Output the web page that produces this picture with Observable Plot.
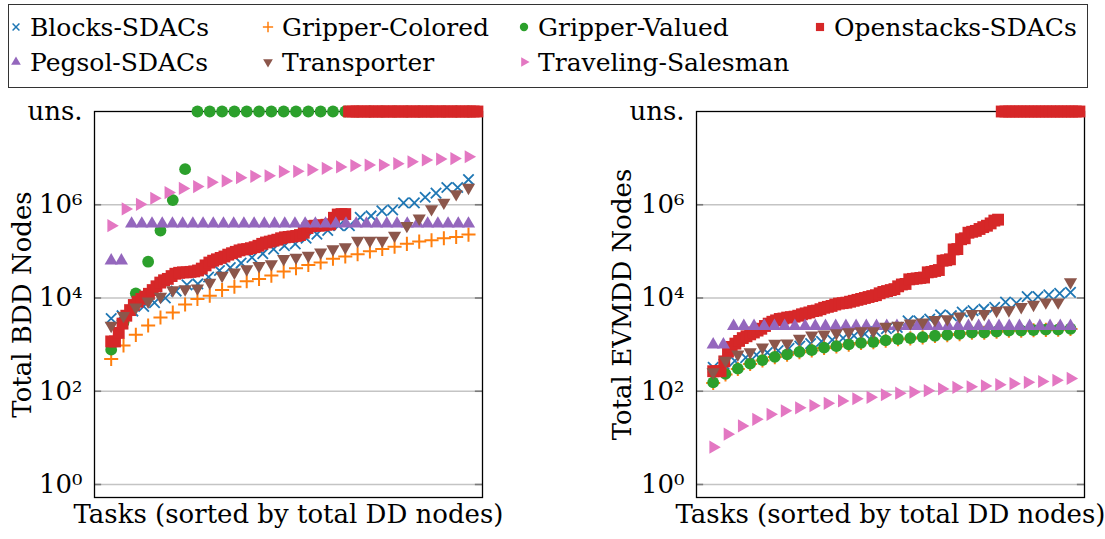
<!DOCTYPE html>
<html><head><meta charset="utf-8">
<script src="https://cdn.jsdelivr.net/npm/d3@7"></script>
<script src="https://cdn.jsdelivr.net/npm/@observablehq/plot@0.6"></script>
<style>
html,body{margin:0;padding:0;background:#fff;}
#root{position:relative;width:1105px;height:539px;overflow:hidden;font-family:"DejaVu Serif",serif;color:#000;}
#legend{position:absolute;left:8px;top:4px;width:1080px;height:84px;border:1.5px solid #333;box-sizing:border-box;}
.item{position:absolute;display:flex;align-items:center;white-space:nowrap;line-height:1;}
.item svg{margin-right:6px;overflow:visible;}
.panel{position:absolute;top:90px;}
</style></head><body><div id="root"><div id="legend"></div></div>
<script>
const U = "uns.";
const seriesNames = ["Blocks-SDACs","Gripper-Colored","Gripper-Valued","Openstacks-SDACs","Pegsol-SDACs","Transporter","Traveling-Salesman"];
const tickValues = [1, 1e2, 1e4, 1e6, 1e8];
const tickLabels = ["10⁰", "10²", "10⁴", "10⁶", "uns."];
const xLabel = "Tasks (sorted by total DD nodes)";
const yLabels = ["Total BDD Nodes", "Total EVMDD Nodes"];

// ---- BDD panel (left) ----
const bddBlocks = [3630,4170,5250,6610,7940,10000,14100,19100,20000,28200,38900,44700,56200,74100,89100,112000,132000,145000,191000,234000,282000,355000,355000,537000,575000,741000,776000,1100000,1100000,1450000,1780000,2340000,2340000,3470000];
const bddGripperColored = [490,955,1620,2570,3800,4900,7240,9550,11200,14800,17400,22900,25700,30200,37200,43700,51300,57500,69200,77600,87100,100000,112000,126000,145000,162000,174000,191000,204000,229000];
const bddGripperValued = [780,3000,12600,60000,280000,1260000,5800000,U,U,U,U,U,U,U,U,U,U,U,U,U,U,U,U,U,U,U,U,U,U,U];
const bddOpenstacks = [1170,1170,1780,2820,4170,5500,7080,8320,9550,10700,12300,14800,17800,21400,24000,25700,29500,33100,34700,35500,35500,36300,37200,38900,42700,50100,57500,63100,67600,72400,77600,85100,91200,97700,105000,110000,112000,117000,123000,132000,145000,155000,162000,170000,178000,191000,200000,204000,209000,214000,224000,251000,316000,347000,355000,355000,363000,372000,380000,525000,617000,631000,631000,U,U,U,U,U,U,U,U,U,U,U,U,U,U,U,U,U,U,U,U,U,U,U,U,U,U,U,U,U,U,U,U,U,U,U];
const bddPegsol = [63000,63000,390000,390000,390000,390000,390000,390000,390000,390000,390000,390000,390000,390000,390000,390000,390000,390000,390000,390000,390000,390000,390000,390000,390000,390000,390000,390000,390000,390000,390000,390000,390000,390000,390000,390000];
const bddTransporter = [2570,4170,6310,8510,10700,14800,15500,16200,21400,30200,35500,41700,49000,53700,69200,74100,81300,95500,112000,123000,170000,170000,170000,219000,355000,513000,813000,1120000,1700000,2340000];
const bddTSP = [355000,813000,1020000,1380000,1820000,2240000,2450000,3020000,3240000,3800000,4070000,4170000,5130000,5200000,5620000,6030000,6460000,6920000,7080000,7100000,7590000,8320000,9120000,9550000,9770000,10700000];

// ---- EVMDD panel (right) ----
const evBlocks = [324,380,447,525,603,676,741,832,933,1050,1170,1260,1380,1550,1700,1910,2190,2340,3240,3240,3550,4370,4170,5010,5370,5750,6310,8130,7760,10700,10700,11700,12600,13200];
const evGripperColored = [150,230,300,385,455,540,610,690,750,850,915,1000,1080,1130,1210,1300,1360,1430,1530,1600,1680,1800,1800,1880,1980,1980,2030,2070,2080,2170];
const evGripperValued = [155,236,305,390,465,545,620,700,760,860,925,1010,1090,1140,1230,1320,1380,1450,1550,1620,1700,1820,1820,1900,2000,2000,2050,2090,2100,2190];
const evOpenstacks = [269,269,269,437,708,891,1050,1200,1380,1510,1660,1820,2000,2190,2510,2820,3090,3310,3550,3630,3800,3890,3980,4170,4470,4680,4900,5250,5370,5750,6170,6460,6760,7240,7590,7760,7940,8320,8710,9120,9550,10000,10500,11000,11500,12600,13500,14100,14800,15500,17800,19500,20000,25100,25700,26300,26900,27500,35500,36300,38000,39800,63100,64600,67600,110000,112000,182000,191000,251000,263000,275000,302000,331000,355000,398000,457000,479000,U,U,U,U,U,U,U,U,U,U,U,U,U,U,U,U,U,U,U,U,U,U];
const evPegsol = [1000,1000,2500,2500,2500,2500,2500,2500,2500,2500,2500,2500,2500,2500,2500,2500,2500,2500,2500,2500,2500,2500,2500,2500,2500,2500,2500,2500,2500,2500,2500,2500,2500,2500,2500,2500];
const evTransporter = [257,457,617,692,871,1050,1070,1350,1580,1660,1780,1860,1950,1950,2450,2570,2880,3020,3390,3550,4070,4570,4570,5370,5500,6460,7240,8130,8130,21900];
const evTSP = [6.3,12,18,25,32,38,44,49,55,62,69,74,84,91,96,103,112,121,125,130,138,145,155,162,172,188];

const bddData = [bddBlocks, bddGripperColored, bddGripperValued, bddOpenstacks, bddPegsol, bddTransporter, bddTSP];
const evData = [evBlocks, evGripperColored, evGripperValued, evOpenstacks, evPegsol, evTransporter, evTSP];

// ---- styles ----
const sqrt3 = Math.sqrt(3);
const triDown = {draw(ctx, size){ const y = -Math.sqrt(size/(sqrt3*3)); ctx.moveTo(0,-2*y); ctx.lineTo(-sqrt3*y,y); ctx.lineTo(sqrt3*y,y); ctx.closePath(); }};
const triRight = {draw(ctx, size){ const y = -Math.sqrt(size/(sqrt3*3)); ctx.moveTo(-2*y,0); ctx.lineTo(y,sqrt3*y); ctx.lineTo(y,-sqrt3*y); ctx.closePath(); }};
const styles = [
  {color:"#1f77b4", symbol:"times", r:4.8, stroke:true, sw:1.8, span:1},
  {color:"#ff7f0e", symbol:"plus", r:4.6, stroke:true, sw:2.0, span:1},
  {color:"#2ca02c", symbol:"circle", r:5.9, stroke:false, span:1},
  {color:"#d62728", symbol:"square", r:6.7, stroke:false, span:1.025},
  {color:"#9467bd", symbol:"triangle", r:4.9, stroke:false, span:1},
  {color:"#8c564b", symbol:triDown, r:4.9, stroke:false, span:1},
  {color:"#e377c2", symbol:triRight, r:4.9, stroke:false, span:1}
];
const FS = 26;
const LFS = 25;
const FONT = "DejaVu Serif";
const X_DOMAIN = [-0.0467, 1.0392];
const Y_DOMAIN = [Math.pow(10, -0.279), 1e8];
const UNS_Y = 1e8;

function rowsFor(values, st){
  const n = values.length;
  return values.map((v, i) => ({x: i/(n-1)*st.span, y: v === U ? UNS_Y : v}));
}

function panel(data, yLabel, width, ml, mr, labelDx){
  const marks = [
    Plot.ruleY(tickValues.slice(0,4), {stroke:"#c4c4c4", strokeWidth:1.5}),
    Plot.ruleY(tickValues.slice(0,4), {x1: X_DOMAIN[0], x2: X_DOMAIN[0]+0.02, stroke:"#7a7a7a", strokeWidth:1.6}),
    Plot.ruleY(tickValues.slice(0,4), {x1: X_DOMAIN[1]-0.02, x2: X_DOMAIN[1], stroke:"#7a7a7a", strokeWidth:1.6}),
    Plot.frame({stroke:"#000", strokeWidth:1.3}),
    Plot.axisY({ticks: tickValues, tickFormat: d => tickLabels[tickValues.indexOf(d)], tickSize:0, tickPadding:12, fontSize:FS, fontFamily:FONT, label:null, fill:"#000"}),
    Plot.text([yLabel], {frameAnchor:"left", dx:labelDx, rotate:-90, textAnchor:"middle", text:d=>d, fontSize:FS, fontFamily:FONT, fill:"#000"}),
    Plot.text([xLabel], {frameAnchor:"bottom", dy:25, textAnchor:"middle", text:d=>d, fontSize:FS, fontFamily:FONT, fill:"#000"})
  ];
  data.forEach((vals, k) => {
    const st = styles[k];
    const opts = {x:"x", y:"y", symbol: st.symbol, r: st.r};
    if (st.stroke) { opts.stroke = st.color; opts.strokeWidth = st.sw; opts.fill = "none"; }
    else { opts.fill = st.color; opts.stroke = "none"; }
    marks.push(Plot.dot(rowsFor(vals, st), opts));
  });
  return Plot.plot({
    width, height:449, marginTop:21, marginBottom:42, marginLeft:ml, marginRight:mr,
    x:{domain:X_DOMAIN, axis:null},
    y:{type:"log", domain:Y_DOMAIN, axis:null},
    style:{fontFamily:FONT, fontSize:FS+"px", color:"#000", background:"transparent", overflow:"visible"},
    marks
  });
}

const root = document.getElementById("root");
const left = panel(bddData, yLabels[0], 552, 94, 70, -72);
left.classList.add("panel"); left.style.left = "0px";
root.appendChild(left);
const right = panel(evData, yLabels[1], 553, 144, 21, -74);
right.classList.add("panel"); right.style.left = "552px";
root.appendChild(right);

// ---- legend ----
const legendPos = [[16,27],[268,27],[524,27],[820,27],[16,62],[268,62],[524,62]];
const legendR = [3.2, 3.4, 4.2, 4.6, 3.6, 3.6, 3.6];
seriesNames.forEach((name, k) => {
  const st = styles[k];
  const [cx, cy] = legendPos[k];
  const div = document.createElement("div");
  div.className = "item";
  div.style.left = (cx - 8) + "px";
  div.style.top = (cy - 15) + "px";
  div.style.height = "30px";
  div.style.fontSize = LFS + "px";
  const svg = d3.create("svg").attr("width", 16).attr("height", 16);
  const sym = typeof st.symbol === "string" ? ({times:d3.symbolTimes, plus:d3.symbolPlus, circle:d3.symbolCircle, square:d3.symbolSquare, triangle:d3.symbolTriangle})[st.symbol] : st.symbol;
  const r = legendR[k];
  const p = svg.append("path").attr("transform", "translate(8,8)").attr("d", d3.symbol(sym, r*r*Math.PI)());
  if (st.stroke) p.attr("fill","none").attr("stroke", st.color).attr("stroke-width", 1.5);
  else p.attr("fill", st.color);
  div.appendChild(svg.node());
  const span = document.createElement("span");
  span.textContent = name;
  div.appendChild(span);
  document.getElementById("root").appendChild(div);
});
</script></body></html>
